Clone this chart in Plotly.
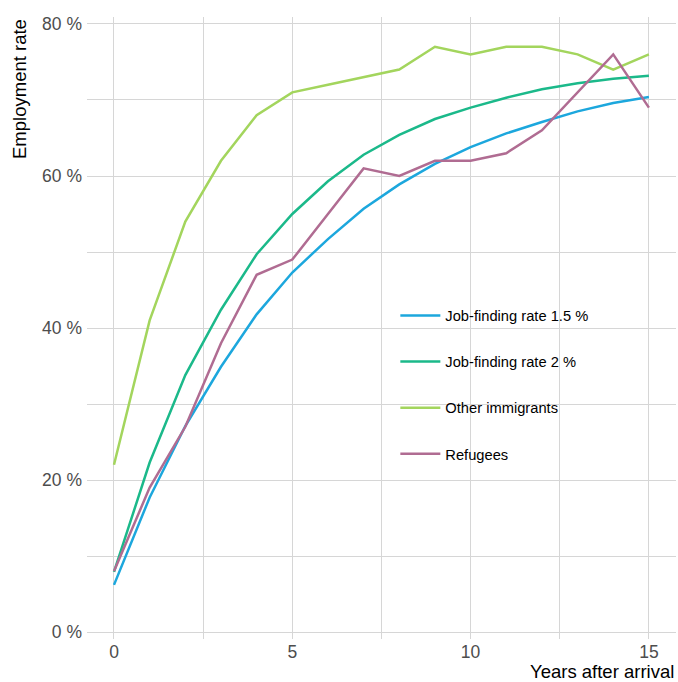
import plotly.graph_objects as go

years = list(range(16))
job_15 = [6.2, 17.7, 27.1, 34.9, 41.8, 47.3, 51.7, 55.7, 58.9, 61.6, 63.8, 65.6, 67.1, 68.5, 69.6, 70.4]
job_2 = [7.9, 22.3, 33.8, 42.4, 49.7, 55.0, 59.3, 62.8, 65.4, 67.5, 69.0, 70.3, 71.4, 72.2, 72.8, 73.2]
other = [22, 41, 54, 62, 68, 71, 72, 73, 74, 77, 76, 77, 77, 76, 74, 76]
refugees = [8, 19, 27, 38, 47, 49, 55, 61, 60, 62, 62, 63, 66, 71, 76, 69]
y_ticks = [0, 20, 40, 60, 80]
y_labels = ["0 %", "20 %", "40 %", "60 %", "80 %"]
x_ticks = [0, 5, 10, 15]

series = [
    ("Job-finding rate 1.5 %", job_15, "#1ca7dd"),
    ("Job-finding rate 2 %", job_2, "#1bb98a"),
    ("Other immigrants", other, "#a3d55d"),
    ("Refugees", refugees, "#b06c92"),
]

fig = go.Figure()
for i, (name, vals, col) in enumerate(series):
    fig.add_trace(go.Scatter(x=years, y=vals, mode="lines", name=name,
                             legendgroup=str(i),
                             line=dict(color=col, width=2.5)))

W, H = 678, 682
L, R, T, B = 87, 2, 17, 43
FONT = "Liberation Sans, Arial, sans-serif"

fig.update_layout(
    width=W, height=H,
    margin=dict(l=L, r=R, t=T, b=B, autoexpand=False),
    paper_bgcolor="white", plot_bgcolor="white",
    font=dict(family=FONT, size=14, color="black"),
    showlegend=True,
    legend=dict(x=0.5235, xanchor="left", y=0.546, yanchor="top",
                bgcolor="rgba(0,0,0,0)", font=dict(size=14.7, color="black"),
                tracegroupgap=24, traceorder="grouped", itemwidth=40),
    xaxis=dict(range=[-0.757, 15.76], tickvals=x_ticks,
               showgrid=True, gridcolor="#d6d6d6", gridwidth=1,
               minor=dict(dtick=2.5, tick0=0, showgrid=True, gridcolor="#d6d6d6", gridwidth=1),
               zeroline=False, showline=False, ticks="", automargin=False,
               tickfont=dict(size=17.5, color="#4d4d4d")),
    yaxis=dict(range=[-0.92, 80.92], tickvals=y_ticks, ticktext=y_labels,
               showgrid=True, gridcolor="#d6d6d6", gridwidth=1,
               minor=dict(dtick=10, tick0=0, showgrid=True, gridcolor="#d6d6d6", gridwidth=1),
               zeroline=False, showline=False, ticks="", automargin=False,
               ticklabelstandoff=4,
               tickfont=dict(size=17.5, color="#4d4d4d")),
    annotations=[
        dict(text="Employment rate", xref="paper", yref="paper", x=-0.1155, y=1.0,
             xanchor="center", yanchor="top", textangle=-90, showarrow=False,
             font=dict(size=18.5, color="black")),
        dict(text="Years after arrival", xref="paper", yref="paper", x=1.0, y=0,
             xanchor="right", yanchor="top", showarrow=False,
             font=dict(size=18.5, color="black"), yshift=-20),
    ],
)

fig.write_html("out.html", config={"displayModeBar": False},
               post_script="document.body.style.margin='0';document.body.style.padding='0';")
